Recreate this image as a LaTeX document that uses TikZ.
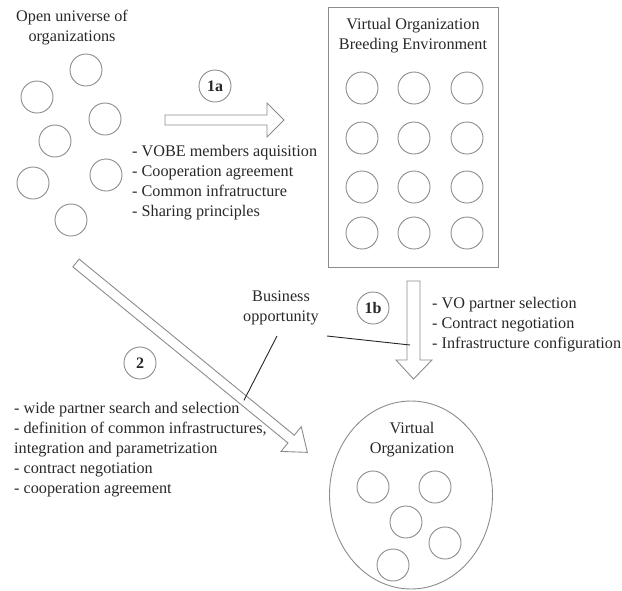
\documentclass[tikz,border=0pt]{standalone}
\usepackage{fontspec}
\setmainfont{Liberation Serif}
\usetikzlibrary{shapes.geometric}
\definecolor{cg}{RGB}{140,140,140}
\definecolor{tx}{RGB}{40,40,40}
\begin{document}
\begin{tikzpicture}[x=1pt,y=-1pt,
  org/.style={circle,draw=cg,line width=0.9pt,minimum size=32pt,inner sep=0pt},
  lbl/.style={text=tx,font=\fontsize{16.2}{20}\selectfont,inner sep=0pt},
  lst/.style={lbl,align=left,anchor=north west},
  num/.style={circle,draw=cg,line width=0.9pt,minimum size=32pt,inner sep=0pt,text=tx,font=\fontsize{16}{18}\selectfont\bfseries},
  blk/.style={draw=cg,line width=0.9pt,fill=white,line join=miter},
  lead/.style={draw=black!85,line width=0.9pt}]
\useasboundingbox (0,0) rectangle (622,590);
% open universe
\node[lbl,align=center] (ou) at (72,28) {Open universe of\\organizations};
\foreach \n/\x/\y in {a/86/70,b/37/97,c/105/119,d/55/141,e/106/175,f/33/183,g/71/220}
  \node[org] (u\n) at (\x,\y) {};
% 1a arrow
\draw[blk] (165,115) -- (267,115) -- (267,103) -- (284,120) -- (267,137) -- (267,125) -- (165,125) -- cycle;
\node[num] (n1a) at (215,86) {1a};
\node[lst] (l1a) at (132,145) {- VOBE members aquisition\\- Cooperation agreement\\- Common infratructure\\- Sharing principles};
% VOBE
\node[draw=cg,line width=0.9pt,minimum width=170pt,minimum height=260pt,inner sep=0pt] (vobe) at (413,137) {};
\node[lbl,align=center] (vt) at (413,36) {Virtual Organization\\Breeding Environment};
\foreach \r/\y in {1/88,2/138,3/187,4/233}
  \foreach \c/\x in {1/362,2/414,3/467}
    \node[org] (v\r\c) at (\x,\y) {};
% 1b arrow
\draw[blk] (407,281) -- (420,281) -- (420,360) -- (432,360) -- (413.5,379) -- (396,360) -- (407,360) -- cycle;
\node[num] (n1b) at (373,308) {1b};
\node[lst] (l1b) at (432,297) {- VO partner selection\\- Contract negotiation\\- Infrastructure configuration};
% arrow 2
\begin{scope}[shift={(76,263)},rotate=-39.3]
\draw[blk] (0,-5) -- (278,-5) -- (278,-16) -- (299,0) -- (278,16) -- (278,5) -- (0,5) -- cycle;
\coordinate (p2) at (217,0);
\end{scope}
\coordinate (p1b) at (410,345);
\node[num] (n2) at (140,363) {2};
\node[lst] (l2) at (14,402) {- wide partner search and selection\\- definition of common infrastructures,\\integration and parametrization\\- contract negotiation\\- cooperation agreement};
% business opportunity
\node[lbl,align=center] (bo) at (281,308) {Business\\opportunity};
\draw[lead] (277,336) -- (p2);
\draw[lead] (327,336) -- (p1b);
% VO
\node[ellipse,draw=cg,line width=0.9pt,minimum width=163pt,minimum height=188pt,inner sep=0pt] (vo) at (411,495) {};
\node[lbl,align=center] (vot) at (412,440) {Virtual\\Organization};
\foreach \n/\x/\y in {a/373/487,b/435/487,c/406/522,d/445/543,e/393/565}
  \node[org] (o\n) at (\x,\y) {};
\end{tikzpicture}
\end{document}
